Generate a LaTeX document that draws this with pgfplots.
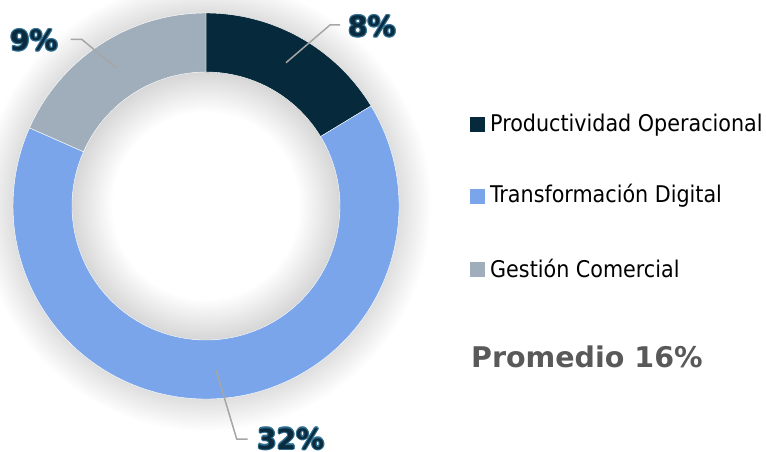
\documentclass[border=0pt]{standalone}
\usepackage{pgfplots}
\pgfplotsset{compat=1.18}
\usepackage{pgfplotstable}
\usetikzlibrary{calc}
\usepackage{fontspec}
\setmainfont{DejaVu Sans Condensed}
\newfontfamily\boldfam{DejaVu Sans}[BoldFont={DejaVu Sans Bold}]

\definecolor{cProd}{HTML}{062A3B}
\definecolor{cTrans}{HTML}{7AA5EA}
\definecolor{cGest}{HTML}{9FAEBA}
\definecolor{cLead}{HTML}{A6A6A6}
\definecolor{cLbl}{HTML}{0B2C3E}
\definecolor{cOut}{HTML}{2F6E92}
\definecolor{cProm}{HTML}{595959}

\pgfplotstableread{
cat value
Prod 8
Trans 32
Gest 9
}\donutdata
\pgfplotstablegetelem{0}{value}\of\donutdata \edef\vA{\pgfplotsretval}
\pgfplotstablegetelem{1}{value}\of\donutdata \edef\vB{\pgfplotsretval}
\pgfplotstablegetelem{2}{value}\of\donutdata \edef\vC{\pgfplotsretval}
\pgfmathsetmacro\tot{\vA+\vB+\vC}
\pgfmathsetmacro\aA{90}
\pgfmathsetmacro\aB{90-360*\vA/\tot}
\pgfmathsetmacro\aC{\aB-360*\vB/\tot}
\pgfmathsetmacro\aD{-270}

\newcommand\sector[3]{%
  \fill[#1, draw=white, line width=0.4pt] ($(c)+(#2:193pt)$) arc[start angle=#2,end angle=#3,radius=193pt]
    -- ($(c)+(#3:134pt)$) arc[start angle=#3,end angle=#2,radius=134pt] -- cycle;}
\newcommand\pctfont{\boldfam\fontsize{28}{30}\selectfont\bfseries}
\newcommand\pct[3]{%
  \pgfplotsinvokeforeach{0,45,90,135,180,225,270,315}{%
    \node[anchor=base west, inner sep=0pt, text=cOut, font=\pctfont] at ($(axis cs:#1,#2)+(##1:1.1pt)$) {#3};}
  \node[anchor=base west, inner sep=0pt, text=cLbl, font=\pctfont] at (axis cs:#1,#2) {#3};}

\begin{document}
\begin{tikzpicture}
\begin{axis}[x=1pt, y=1pt, xmin=0, xmax=766, ymin=0, ymax=452, y dir=reverse,
  axis lines=none, clip=false, scale only axis]
\coordinate (bl) at (axis cs:0,452);
\coordinate (tr) at (axis cs:766,0);
\coordinate (c) at (axis cs:206,206);
% soft shadow (outer and inner)
\pgfplotsinvokeforeach{1,...,16}{%
  \fill[black, opacity=0.0065, even odd rule] (c) circle[radius={193pt+#1*2pt}] (c) circle[radius=193pt];}
\pgfplotsinvokeforeach{1,...,20}{%
  \fill[black, opacity=0.0060, even odd rule] (c) circle[radius=134pt] (c) circle[radius={134pt-#1*2pt}];}
% sectors
\sector{cProd}{\aA}{\aB}
\sector{cTrans}{\aB}{\aC}
\sector{cGest}{\aC}{\aD}
% leader lines
\draw[cLead, line width=1.5pt] (axis cs:70.5,39.3) -- (axis cs:81.7,39.3) -- (axis cs:116.7,68.3);
\draw[cLead, line width=1.5pt] (axis cs:286,62.7) -- (axis cs:330,25) -- (axis cs:340,25);
\draw[cLead, line width=1.5pt] (axis cs:216,370) -- (axis cs:236.7,439) -- (axis cs:247.7,439);
% percent labels
\pct{10}{50.5}{9\%}
\pct{348}{36.5}{8\%}
\pct{257}{449}{32\%}
% legend
\addplot[only marks, mark=square*, mark size=7pt, cProd] coordinates {(477,124)};
\addplot[only marks, mark=square*, mark size=7pt, cTrans] coordinates {(477,196)};
\addplot[only marks, mark=square*, mark size=7pt, cGest] coordinates {(477,269)};
\node[anchor=base west, inner sep=0pt, font=\fontsize{23}{27}\selectfont] at (axis cs:490,131) {Productividad Operacional};
\node[anchor=base west, inner sep=0pt, font=\fontsize{23}{27}\selectfont] at (axis cs:490,202) {Transformación Digital};
\node[anchor=base west, inner sep=0pt, font=\fontsize{23}{27}\selectfont] at (axis cs:490,277) {Gestión Comercial};
\node[anchor=base west, inner sep=0pt, text=cProm, font=\boldfam\fontsize{28.5}{32}\selectfont\bfseries] at (axis cs:471,367.7) {Promedio 16\%};
\end{axis}
\pgfresetboundingbox
\path[use as bounding box] (bl) rectangle (tr);
\end{tikzpicture}
\end{document}
